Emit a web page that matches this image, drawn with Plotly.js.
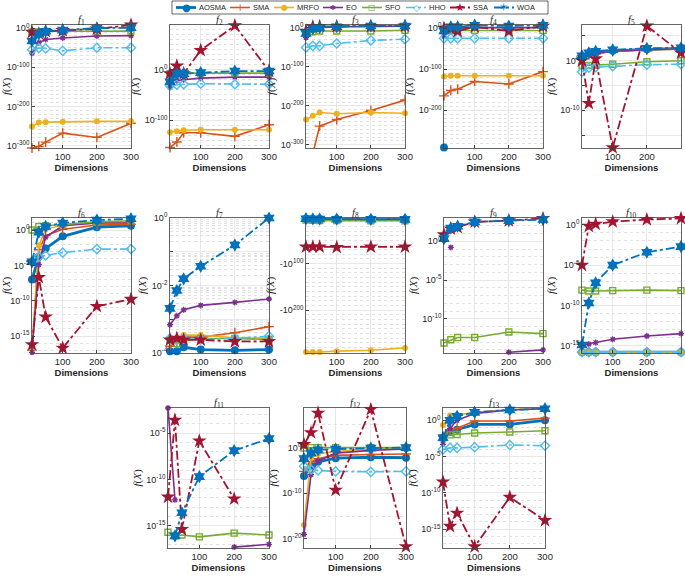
<!DOCTYPE html>
<html><head><meta charset="utf-8">
<script src="https://cdn.plot.ly/plotly-3.0.1.min.js"></script>
<style>html,body{margin:0;padding:0;background:#fff}#chart{width:685px;height:577px}</style>
</head><body><div id="chart"></div>
<script>
// ---------------- DATA ----------------
const dims = [10, 30, 50, 100, 200, 300];
const algorithms = ['AOSMA', 'SMA', 'MRFO', 'EO', 'SFO', 'HHO', 'SSA', 'WOA'];
const xTickVals = [100, 200, 300];

// each fN: rows in the order of `algorithms`; 0 = exact zero (not drawable on a log axis)
const f1 = [
  [0, 0, 0, 0, 0, 0],
  [1e-306, 1e-302, 1e-291, 1e-268, 1e-279, 1e-243],
  [1e-251, 1e-241, 1e-240, 1e-239, 1e-238, 1e-238],
  [1e-64, 1e-37, 1e-29, 1e-25, 1e-20, 1e-19],
  [1e-10, 1e-10, 3e-9, 1e-8, 3e-8, 3e-8],
  [1e-55, 1e-51, 1e-52, 1e-58, 1e-50, 1e-50],
  [1e-10, 1e-14, 1e-8, 1e-6, 1e-2, 1e8],
  [1e-33, 1e-15, 1e-8, 1e-5, 1, 10]
];
const f2 = [
  [0, 0, 0, 0, 0, 0],
  [1e-154, 1e-143, 1e-125, 1e-125, 1e-132, 1e-109],
  [1e-124, 1e-122, 1e-120, 1e-119, 1e-119, 1e-119],
  [1e-35, 1e-22, 1e-20, 1e-17, 1e-15, 1e-15],
  [1e-8, 1e-7, 1e-7, 1e-7, 1e-7, 1e-7],
  [1e-32, 1e-30, 1e-29, 1e-28, 1e-29, 1e-29],
  [1e-8, 1e7, 1e-8, 1e38, 1e87, 1e-3],
  [1e-24, 1e-9, 1e-8, 1e-6, 1e-3, 1e-3]
];
const f3 = [
  [0, 0, 0, 0, 0, 0],
  [1e-320, 1e-322, 1e-252, 1e-235, 1e-212, 1e-185],
  [1e-235, 1e-225, 1e-217, 1e-220, 1e-217, 1e-219],
  [1e-25, 1e-6, 10, 1e3, 1e4, 1e5],
  [1e-14, 1e-10, 1e-8, 1e-8, 1e-8, 1e-6],
  [1e-50, 1e-46, 1e-46, 1e-40, 1e-32, 1e-29],
  [1e-8, 1e3, 1e4, 1e4, 1e4, 1e5],
  [1e-14, 1e-2, 10, 1e3, 1e5, 1e5]
];
const f4 = [
  [1e-291, 0, 0, 0, 0, 0],
  [1e-165, 1e-152, 1e-149, 1e-130, 1e-136, 1e-106],
  [1e-118, 1e-116, 1e-116, 1e-116, 1e-116, 1e-116],
  [1e-20, 1, 10, 10, 10, 10],
  [1e-6, 1e-6, 1e-6, 1e-6, 1e-6, 1e-6],
  [1e-25, 1e-25, 1e-25, 1e-25, 1e-25, 1e-25],
  [1, 1e-2, 1e-7, 1e3, 1e-7, 1e5],
  [1e-7, 1e3, 1e3, 1e7, 1e5, 1e7]
];
const f5 = [
  [5, 25, 40, 100, 200, 316],
  [5, 16, 25, 80, 160, 220],
  [6, 20, 32, 80, 160, 250],
  [4, 16, 32, 80, 160, 250],
  [0.1, 0.11, 0.13, 0.2, 0.6, 1],
  [0.006, 0.04, 0.05, 0.08, 0.16, 0.2],
  [1, 2.5e-9, 2.5, 3e-18, 1e7, 40],
  [10, 40, 80, 160, 316, 400]
];
const f6 = [
  [1e-7, 1.6e-4, 2.5e-3, 0.126, 2.5, 4],
  [1e-17, 1.6e-3, 0.16, 1.26, 5, 6.3],
  [1.6e-17, 6.3e-3, 1.26, 5, 10, 12.6],
  [5e-18, 1.26e-5, 0.1, 4, 10, 10],
  [1, 3.2, 4, 6.3, 14, 20],
  [3.2e-5, 1.6e-4, 2.5e-4, 6.3e-4, 2e-3, 2e-3],
  [6.3e-17, 2e-7, 5e-13, 2e-17, 1.6e-11, 1.6e-10],
  [3.2e-5, 0.5, 3.2, 10, 25, 40]
];
const f7 = [
  [1.12e-4, 1.12e-4, 1.48e-4, 1.26e-4, 1.2e-4, 1.26e-4],
  [1.58e-4, 2.19e-4, 2.95e-4, 2.95e-4, 3.98e-4, 6.03e-4],
  [2.51e-4, 2.82e-4, 3.39e-4, 3.39e-4, 2.82e-4, 2.75e-4],
  [6.9e-4, 1.26e-3, 1.9e-3, 2.57e-3, 3.16e-3, 3.98e-3],
  [2.4e-4, 1.9e-4, 2.4e-4, 2.7e-4, 2.7e-4, 2.5e-4],
  [2.7e-4, 2.4e-4, 2.7e-4, 2.5e-4, 2.7e-4, 3.16e-4],
  [2.45e-4, 2.75e-4, 2.45e-4, 2.45e-4, 2.2e-4, 2.2e-4],
  [2.1e-3, 7.1e-3, 1.58e-2, 3.7e-2, 0.158, 1]
];
const f8 = [
  [-4.2e3, -1.25e4, -2.1e4, -4.2e4, -8.4e4, -1.26e5],
  [-4.1e3, -1.2e4, -2.0e4, -4.0e4, -8.0e4, -1.2e5],
  [-1e290, -1e290, -1e290, -1e288, -1e286, -1e281],
  [-3.5e3, -9e3, -1.5e4, -3e4, -6e4, -9e4],
  [-3e6, -1e7, -2e7, -4e7, -8e7, -1e8],
  [-4e3, -1.2e4, -2.1e4, -4.2e4, -8.3e4, -1.25e5],
  [-1e64, -1e64, -1e64, -1e65, -1e64, -1e64],
  [-3.5e3, -1e4, -1.7e4, -3.5e4, -7e4, -1.05e5]
];
const f9 = [
  [0, 0, 0, 0, 0, 0],
  [0, 0, 0, 0, 0, 0],
  [0, 0, 0, 0, 0, 0],
  [0, 0.16, 0, 0, 5e-15, 1e-14],
  [7.9e-14, 2e-13, 4e-13, 4e-13, 2e-12, 1.26e-12],
  [0, 0, 0, 0, 0, 0],
  [7, 40, 63, 316, 457, 891],
  [2.2, 50, 87, 316, 457, 631]
];
const f10 = [
  [1.6e-16, 1.6e-16, 1.6e-16, 1.6e-16, 1.6e-16, 1.6e-16],
  [1.6e-16, 1.6e-16, 1.6e-16, 1.6e-16, 1.6e-16, 1.6e-16],
  [1.6e-16, 1.6e-16, 1.6e-16, 1.6e-16, 1.6e-16, 1.6e-16],
  [1.26e-15, 1.6e-15, 2.5e-15, 6.3e-15, 1.6e-14, 3.2e-14],
  [7.9e-9, 6.3e-9, 6.3e-9, 7e-9, 7.9e-9, 7e-9],
  [1.6e-16, 1.6e-16, 1.6e-16, 1.6e-16, 1.6e-16, 1.6e-16],
  [1e-5, 0.69, 1.26, 2.5, 4.5, 6.3],
  [1.26e-15, 2e-10, 6.3e-8, 1e-5, 4e-4, 2e-3]
];
const f11 = [
  [0, 0, 0, 0, 0, 0],
  [0, 0, 0, 0, 0, 0],
  [0, 0, 0, 0, 0, 0],
  [5e-3, 6.3e-13, 0, 0, 5e-18, 1e-17],
  [2e-16, 8e-17, 1e-16, 6.3e-17, 1.6e-16, 1e-16],
  [0, 0, 0, 0, 0, 0],
  [1.26e-12, 2.5e-4, 4e-16, 1.4e-6, 8e-13, 0],
  [0, 8e-17, 2.5e-14, 2e-10, 1.26e-7, 2.5e-6]
];
const f12 = [
  [6.3e-7, 1e-4, 8e-4, 5e-3, 8e-3, 6.3e-3],
  [6.3e-6, 8e-4, 4e-3, 2e-2, 3.2e-2, 4e-2],
  [1.26e-17, 8e-3, 4e-2, 0.16, 0.5, 0.63],
  [1e-19, 1.26e-6, 1.26e-3, 6.3e-2, 0.25, 0.5],
  [0.8, 1, 1, 1, 1, 1],
  [8e-5, 1.6e-5, 1e-5, 6.3e-6, 5e-6, 6.3e-6],
  [5, 2e3, 4e7, 5e-10, 2.5e8, 2e-22],
  [4e-3, 6.3e-2, 0.32, 0.5, 0.8, 1]
];
const f13 = [
  [4e-3, 2.2e-2, 5e-2, 0.27, 0.27, 1],
  [6.3e-3, 5e-2, 8e-2, 0.8, 0.8, 2],
  [0.22, 4.5, 5.5, 12.6, 31.6, 40],
  [5e-4, 8e-2, 1, 9, 27, 40],
  [4e-3, 1e-2, 1.1e-2, 1.8e-2, 2.5e-2, 3.7e-2],
  [1e-4, 1.6e-4, 1.6e-4, 2e-4, 4e-4, 3.2e-4],
  [3.2e-9, 2.5e-15, 1.6e-13, 4e-18, 2.5e-11, 1.6e-14],
  [4e-3, 1, 3.6, 12.6, 27, 40]
];

// labelled y tick exponents for each panel
const f1TickExp = [-300, -200, -100, 0];
const f2TickExp = [-100, 0];
const f3TickExp = [-300, -200, -100, 0];
const f4TickExp = [-200, -100, 0];
const f5TickExp = [-10, 0];
const f6TickExp = [-15, -10, -5, 0];
const f7TickExp = [-4, -2, 0];
const f8TickExp = [100, 200];
const f9TickExp = [-10, -5, 0];
const f10TickExp = [-15, -10, -5, 0];
const f11TickExp = [-15, -10, -5];
const f12TickExp = [-20, -10, 0];
const f13TickExp = [-15, -10, -5, 0];

// ---------------- LAYOUT / STYLE ----------------
const W = 685, H = 577;
const styles = [
  {color: '#0072BD', width: 2.8, dash: 'solid',   symbol: 'circle',          size: 8,  mlw: 0,   glyph: '\u25CF', gsize: 10},
  {color: '#D95319', width: 1.6, dash: 'solid',   symbol: 'cross-thin-open', size: 7,  mlw: 1.4, glyph: '+',      gsize: 10},
  {color: '#EDB120', width: 1.6, dash: 'solid',   symbol: 'circle',          size: 6,  mlw: 0,   glyph: '\u25CF', gsize: 8},
  {color: '#7E2F8E', width: 1.6, dash: 'solid',   symbol: 'asterisk-open',   size: 5,  mlw: 1.3, glyph: '\u2731', gsize: 7},
  {color: '#77AC30', width: 1.6, dash: 'solid',   symbol: 'square-open',     size: 6,  mlw: 1.4, glyph: '\u25A1', gsize: 8},
  {color: '#4DBEEE', width: 1.6, dash: 'dashdot', symbol: 'diamond-open',    size: 7,  mlw: 1.4, glyph: '\u25C7', gsize: 9},
  {color: '#A2142F', width: 1.8, dash: 'dashdot', symbol: 'star',            size: 11, mlw: 0,   glyph: '\u2605', gsize: 11},
  {color: '#0072BD', width: 1.8, dash: 'dashdot', symbol: 'hexagram',        size: 10, mlw: 0,   glyph: '\u2736', gsize: 11}
];
// [left, right, top, bottom] in px
const boxes = [
  [32, 131, 25, 148], [170, 269, 25, 148], [306, 405, 25, 148], [444, 543, 25, 148], [582, 681, 25, 148],
  [32, 131, 218, 353], [170, 269, 218, 353], [306, 405, 218, 353], [444, 543, 218, 353], [582, 681, 218, 353],
  [168, 269, 408, 548], [304, 406, 408, 548], [443, 545, 408, 548]
];
const panels = [
  {vals: f1,  ticks: f1TickExp,  range: [-306, 8],     grid: {step: 10}},
  {vals: f2,  ticks: f2TickExp,  range: [-155, 88],    grid: {step: 10}},
  {vals: f3,  ticks: f3TickExp,  range: [-308, 7.5],   grid: {step: 10}},
  {vals: f4,  ticks: f4TickExp,  range: [-292, 7.5],   grid: {step: 10}},
  {vals: f5,  ticks: f5TickExp,  range: [-17.6, 7.2],  grid: {major: [-15, -10, -5, 0, 5]}},
  {vals: f6,  ticks: f6TickExp,  range: [-17.4, 1.7],  grid: {step: 1}},
  {vals: f7,  ticks: f7TickExp,  range: [-4, 0],       grid: {major: [-4, -3, -2, -1, 0], sub: true}},
  {vals: f8,  ticks: f8TickExp,  range: [292, 2],      grid: {step: 10}, neg: true},
  {vals: f9,  ticks: f9TickExp,  range: [-14.4, 3],    grid: {step: 1}},
  {vals: f10, ticks: f10TickExp, range: [-15.9, 0.85], grid: {step: 1}},
  {vals: f11, ticks: f11TickExp, range: [-17.4, -2.3], grid: {step: 1}},
  {vals: f12, ticks: f12TickExp, range: [-22, 8.7],    grid: {step: 5}},
  {vals: f13, ticks: f13TickExp, range: [-17.6, 1.7],  grid: {step: 1}}
];

const traces = [];
const layout = {
  width: W, height: H,
  margin: {l: 0, r: 0, t: 0, b: 0},
  paper_bgcolor: '#fff', plot_bgcolor: '#fff',
  font: {family: 'Liberation Sans, Arial, sans-serif', color: '#262626', size: 9},
  showlegend: false,
  annotations: [], shapes: []
};

const GRID = '#e2e2e2', MINOR = '#d4d4d4', AXC = '#404040';

panels.forEach((p, i) => {
  const k = i + 1;
  const xs = k === 1 ? '' : String(k);
  const [l, r, t, b] = boxes[i];
  const lo = Math.min(p.range[0], p.range[1]), hi = Math.max(p.range[0], p.range[1]);

  let majorExp;
  if (p.grid.major) majorExp = p.grid.major;
  else {
    const st = p.grid.step >= 10 ? 100 : (p.grid.step === 5 ? 10 : 5);
    majorExp = [];
    for (let e = Math.ceil(lo / st) * st; e <= hi; e += st) majorExp.push(e);
    p.ticks.forEach(e => { if (!majorExp.includes(e)) majorExp.push(e); });
  }
  const pre = p.neg ? '-10' : '10';
  const tickvals = majorExp.map(e => Math.pow(10, e));
  const ticktext = majorExp.map(e => p.ticks.includes(e) ? pre + '<sup>' + e + '</sup>' : '');
  const minorVals = [];
  if (p.grid.sub) {
    for (let e = Math.floor(lo); e < hi; e++) for (let m = 2; m <= 9; m++) minorVals.push(m * Math.pow(10, e));
  } else if (p.grid.step) {
    for (let e = Math.ceil(lo / p.grid.step) * p.grid.step; e <= hi; e += p.grid.step)
      if (!majorExp.includes(e)) minorVals.push(Math.pow(10, e));
  }

  layout['xaxis' + xs] = {
    domain: [l / W, r / W], anchor: 'y' + xs, range: [10, 300],
    tickmode: 'array', tickvals: xTickVals,
    ticks: 'inside', ticklen: 3, tickcolor: AXC,
    showline: true, mirror: true, linecolor: AXC, linewidth: 0.8,
    showgrid: true, gridcolor: GRID, gridwidth: 0.8, zeroline: false,
    tickfont: {size: 9.5, color: '#262626'},
    title: {text: '<b>Dimensions</b>', font: {size: 9.5, color: '#262626'}, standoff: 3}
  };
  layout['yaxis' + xs] = {
    domain: [1 - b / H, 1 - t / H], anchor: 'x' + xs, type: 'log', range: p.range,
    tickmode: 'array', tickvals: tickvals, ticktext: ticktext,
    ticks: 'inside', ticklen: 3, tickcolor: AXC,
    showline: true, mirror: true, linecolor: AXC, linewidth: 0.8,
    showgrid: true, gridcolor: GRID, gridwidth: 0.8, zeroline: false,
    minor: {tickmode: 'array', tickvals: minorVals, showgrid: true, gridcolor: MINOR, griddash: 'dot', gridwidth: 0.7, ticks: ''},
    tickfont: {size: 9, color: '#262626'},
    title: {text: '<i>f</i>(<i>X</i>)', font: {family: 'Liberation Serif, serif', size: 11, color: '#262626'}, standoff: 2}
  };
  layout.annotations.push({
    text: '<i>f</i><sub>' + k + '</sub>', showarrow: false, borderpad: 0,
    xref: 'x' + xs + ' domain', yref: 'y' + xs + ' domain', x: 0.5, y: 1, yanchor: 'bottom', yshift: -3,
    font: {family: 'Liberation Serif, serif', size: 10.5, color: '#262626'}
  });

  p.vals.forEach((arr, j) => {
    const s = styles[j];
    const y = arr.map(v => { const a = p.neg ? -v : v; return a > 0 ? a : null; });
    const outside = y.some(v => v !== null && (Math.log10(v) < lo - 0.5 || Math.log10(v) > hi + 0.5));
    traces.push({
      type: 'scatter', mode: 'lines+markers', x: dims, y: y,
      xaxis: 'x' + xs, yaxis: 'y' + xs,
      name: algorithms[j], showlegend: false, connectgaps: false,
      cliponaxis: outside,
      line: {color: s.color, width: s.width, dash: s.dash},
      marker: {symbol: s.symbol, size: s.size, color: s.color, line: {color: s.color, width: s.mlw}}
    });
  });
});

// ---- legend (boxed, one row) ----
const legTop = 1, legBot = 14, legL = 172, legR = 548;
const legY = 1 - ((legTop + legBot) / 2) / H;
layout.shapes.push({type: 'rect', xref: 'paper', yref: 'paper',
  x0: legL / W, x1: legR / W, y0: 1 - legBot / H, y1: 1 - legTop / H,
  line: {color: '#262626', width: 0.7}, fillcolor: '#fff', layer: 'above'});
let cx = legL + 4;
algorithms.forEach((name, j) => {
  const s = styles[j];
  const sw = 20;
  layout.shapes.push({type: 'line', xref: 'paper', yref: 'paper',
    x0: cx / W, x1: (cx + sw) / W, y0: legY, y1: legY,
    line: {color: s.color, width: s.width, dash: s.dash}, layer: 'above'});
  layout.annotations.push({text: s.glyph, xref: 'paper', yref: 'paper', x: (cx + sw / 2) / W, y: legY,
    xanchor: 'center', yanchor: 'middle', showarrow: false, borderpad: 0,
    font: {family: 'DejaVu Sans, sans-serif', size: s.gsize, color: s.color}});
  layout.annotations.push({text: name, xref: 'paper', yref: 'paper', x: (cx + sw + 2) / W, y: legY,
    xanchor: 'left', yanchor: 'middle', showarrow: false, borderpad: 0,
    font: {size: 7.5, color: '#262626'}});
  cx += sw + 2 + name.length * 5 + 7;
});

Plotly.newPlot('chart', traces, layout, {staticPlot: true, displayModeBar: false});
</script>
</body></html>
